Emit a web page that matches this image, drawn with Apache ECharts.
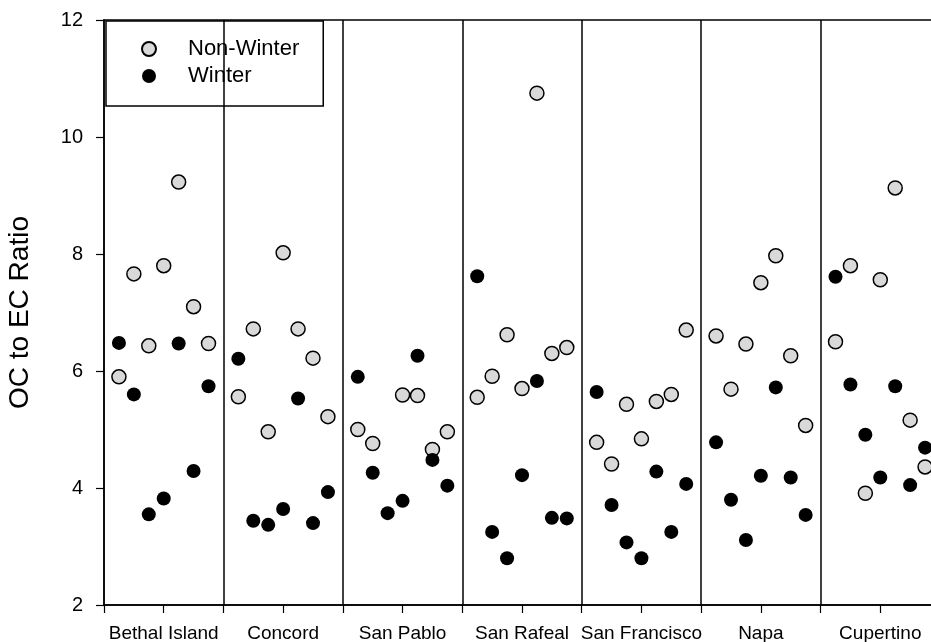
<!DOCTYPE html>
<html>
<head>
<meta charset="utf-8">
<script src="https://cdn.jsdelivr.net/npm/echarts@6/dist/echarts.min.js"></script>
<style>
  html, body { margin: 0; padding: 0; background: #fff; }
  #chart { width: 931px; height: 642px; }
</style>
</head>
<body>
<div id="chart"></div>
<script>
// sampling sites along the x axis
var sites = ['Bethal Island', 'Concord', 'San Pablo', 'San Rafeal', 'San Francisco', 'Napa', 'Cupertino']

// OC/EC ratio, 7 samples per site (null = no point shown)
var nonWinter = [
  [5.90, 7.66, 6.43, 7.80, 9.23, 7.10, 6.47],
  [5.56, 6.72, 4.96, 8.02, 6.72, 6.22, 5.22],
  [5.00, 4.76, null, 5.59, 5.58, 4.66, 4.96],
  [5.55, 5.91, 6.62, 5.70, 10.75, 6.30, 6.40],
  [4.78, 4.41, 5.43, 4.84, 5.48, 5.60, 6.70],
  [6.60, 5.69, 6.46, 7.51, 7.97, 6.26, 5.07],
  [6.50, 7.80, 3.91, 7.56, 9.13, 5.16, 4.36]
]
var winter = [
  [6.48, 5.60, 3.55, 3.82, 6.47, 4.29, 5.74],
  [6.21, 3.44, 3.37, 3.64, 5.53, 3.40, 3.93],
  [5.90, 4.26, 3.57, 3.78, 6.26, 4.48, 4.04],
  [7.62, 3.25, 2.80, 4.22, 5.83, 3.49, 3.48],
  [5.64, 3.71, 3.07, 2.80, 4.28, 3.25, 4.07],
  [4.78, 3.80, 3.11, 4.21, 5.72, 4.18, 3.54],
  [7.61, 5.77, 4.91, 4.18, 5.74, 4.05, 4.69]
]

var yMin = 2
var yMax = 12
var yStep = 2

var font = "'Liberation Sans', Arial, sans-serif"

// site i occupies [i, i+1] on the x axis, samples spread evenly inside
function toPoints (rows) {
  var pts = []
  rows.forEach(function (row, i) {
    row.forEach(function (v, j) {
      if (v === null) return
      pts.push([i + (j + 1) / (row.length + 1), v])
    })
  })
  return pts
}

var chart = echarts.init(document.getElementById('chart'))
chart.setOption({
  animation: false,
  backgroundColor: '#fff',
  grid: {
    left: 104,
    width: 836, // last panel runs past the right edge, as in the original
    top: 20,
    bottom: 37,
    outerBoundsMode: 'none',
    show: true,
    borderColor: '#000',
    borderWidth: 1.5
  },
  legend: {
    data: ['Non-Winter', 'Winter'],
    orient: 'vertical',
    left: 106,
    top: 21,
    padding: [17, 24, 19, 35],
    itemGap: 5,
    itemWidth: 14,
    itemHeight: 14,
    icon: 'circle',
    backgroundColor: '#fff',
    borderColor: '#000',
    borderWidth: 1.5,
    formatter: '{s|}{name}',
    textStyle: {
      fontFamily: font,
      fontSize: 22,
      color: '#000',
      rich: { s: { width: 27 } }
    }
  },
  xAxis: {
    type: 'value',
    min: 0,
    max: sites.length,
    interval: 0.5,
    splitLine: { show: false },
    axisLine: { lineStyle: { color: '#000', width: 1.5 } },
    axisTick: { show: true, length: 8, lineStyle: { color: '#000', width: 1.2 } },
    axisLabel: {
      margin: 19,
      color: '#000',
      fontFamily: font,
      fontSize: 19,
      formatter: function (v) {
        var k = Math.floor(v)
        return Math.abs(v - k - 0.5) < 1e-6 ? sites[k] : ''
      }
    }
  },
  yAxis: {
    type: 'value',
    min: yMin,
    max: yMax,
    interval: yStep,
    name: 'OC to EC Ratio',
    nameLocation: 'middle',
    nameGap: 70,
    nameTextStyle: { fontFamily: font, fontSize: 28, color: '#000' },
    splitLine: { show: false },
    axisLine: { show: true, lineStyle: { color: '#000', width: 1.5 } },
    axisTick: { show: true, length: 8, lineStyle: { color: '#000', width: 1.2 } },
    axisLabel: { margin: 21, color: '#000', fontFamily: font, fontSize: 20 }
  },
  series: [
    {
      name: 'Non-Winter',
      type: 'scatter',
      symbol: 'circle',
      symbolSize: 14,
      itemStyle: { color: '#d9d9d9', borderColor: '#000', borderWidth: 1.5, opacity: 1 },
      data: toPoints(nonWinter)
    },
    {
      name: 'Winter',
      type: 'scatter',
      symbol: 'circle',
      symbolSize: 14,
      itemStyle: { color: '#000', opacity: 1 },
      data: toPoints(winter)
    },
    {
      // vertical separators between sites
      name: 'sep',
      type: 'scatter',
      data: [],
      markLine: {
        silent: true,
        symbol: ['none', 'none'],
        label: { show: false },
        lineStyle: { color: '#000', width: 1.5, type: 'solid' },
        data: sites.slice(1).map(function (s, i) { return { xAxis: i + 1 } })
      }
    }
  ]
})
</script>
</body>
</html>
